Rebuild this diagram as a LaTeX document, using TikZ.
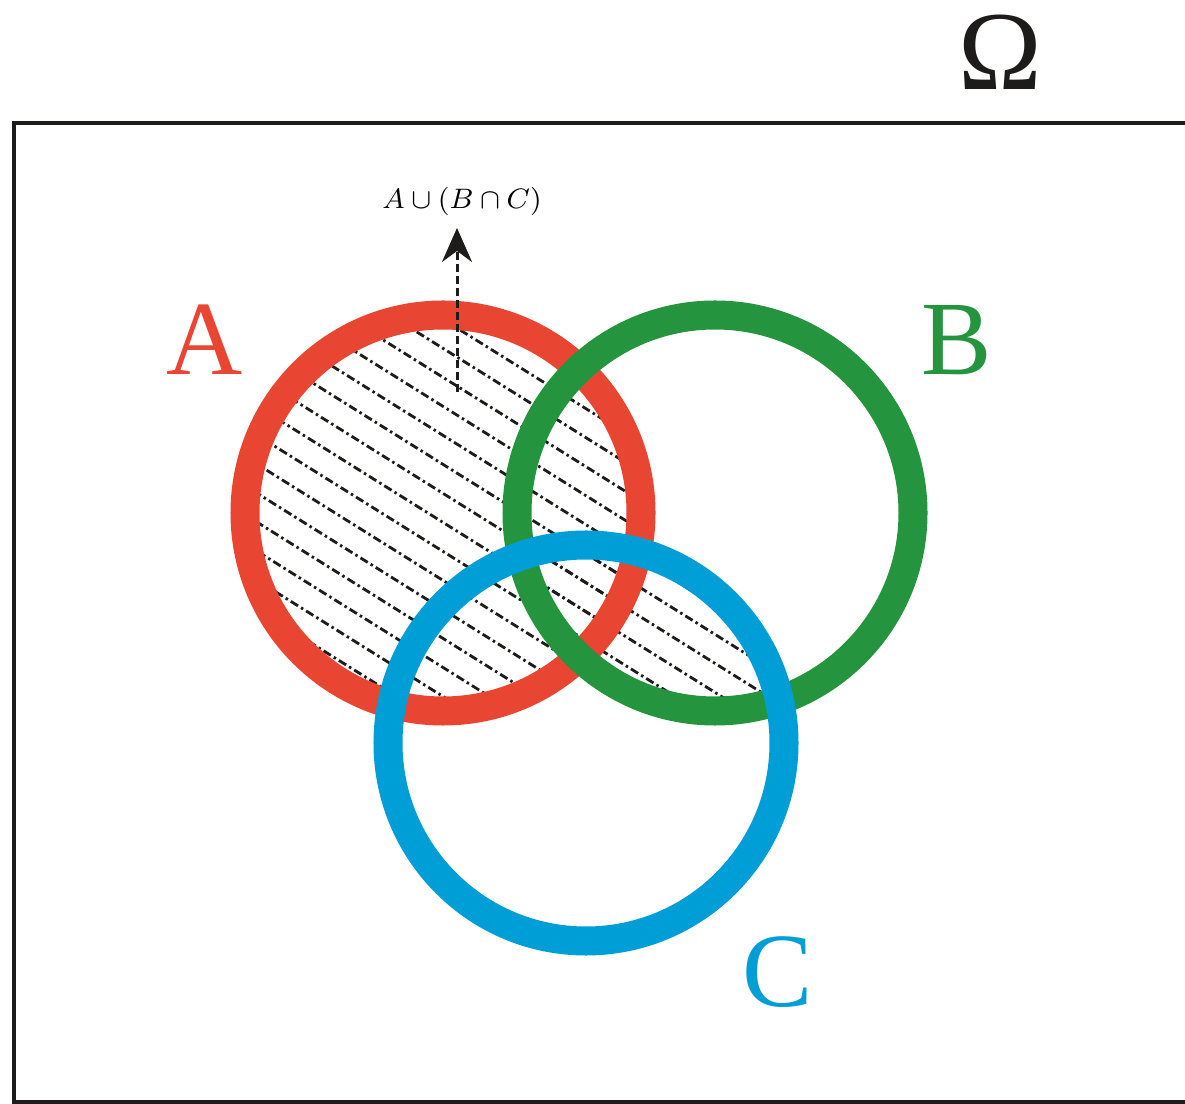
\documentclass[tikz,border=0pt]{standalone}
\usepackage{fontspec}
\setmainfont{Liberation Serif}
\usetikzlibrary{arrows.meta}
\definecolor{ared}{RGB}{232,70,50}
\definecolor{bgreen}{RGB}{36,148,62}
\definecolor{cblue}{RGB}{0,158,214}
\definecolor{ink}{RGB}{30,28,26}
\tikzset{
  ring/.style={line width=0.29cm},
  hatch/.style={ink, line width=0.028cm, dash pattern=on 0.085cm off 0.035cm on 0.025cm off 0.035cm},
  setlabel/.style={font=\fontsize{30}{30}\selectfont, inner sep=0pt},
}
\begin{document}
\begin{tikzpicture}[x=0.01cm,y=-0.01cm]
\useasboundingbox (0,0) rectangle (1185,1104);
\fill[white] (0,0) rectangle (1185,1104);
% frame
\draw[ink, line width=0.04cm] (1185,123) -- (14,123) -- (14,1102) -- (1185,1102);
\coordinate (A) at (443,513);
\coordinate (B) at (715,513);
\coordinate (C) at (586,743);
% hatching of A u (B n C)
\def\hatchlines{%
  \foreach \k in {-30,...,30}{
    \draw[hatch] ({500-0.53*24.6*\k-0.848*700},{500+0.848*24.6*\k-0.53*700}) -- ({500-0.53*24.6*\k+0.848*700},{500+0.848*24.6*\k+0.53*700});
  }}
\begin{scope}
  \clip (A) circle[radius=198];
  \hatchlines
\end{scope}
\begin{scope}
  \clip (B) circle[radius=198];
  \clip (C) circle[radius=198];
  \hatchlines
\end{scope}
% rings
\draw[ring, ared] (A) circle[radius=198];
\draw[ring, bgreen] (B) circle[radius=198];
\draw[ring, cblue] (C) circle[radius=198];
% arrow and its label
\coordinate (s) at (457,392);
\coordinate (t) at (457,228);
\draw[ink, line width=0.03cm, dash pattern=on 0.08cm off 0.04cm, -{Stealth[length=0.34cm,width=0.3cm]}] (s) -- (t);
\node[font=\fontsize{8.5}{8.5}\selectfont, inner sep=0pt] (lbl) at (462,201) {$A\cup(B\cap C)$};
% set labels
\node[setlabel, text=ared] (la) at (205,340) {A};
\node[setlabel, text=bgreen] (lb) at (957,340) {B};
\node[setlabel, text=cblue] (lc) at (778,972) {C};
\node[setlabel, text=ink, font=\fontsize{32}{32}\selectfont] (om) at (1000,52) {Ω};
\end{tikzpicture}
\end{document}
